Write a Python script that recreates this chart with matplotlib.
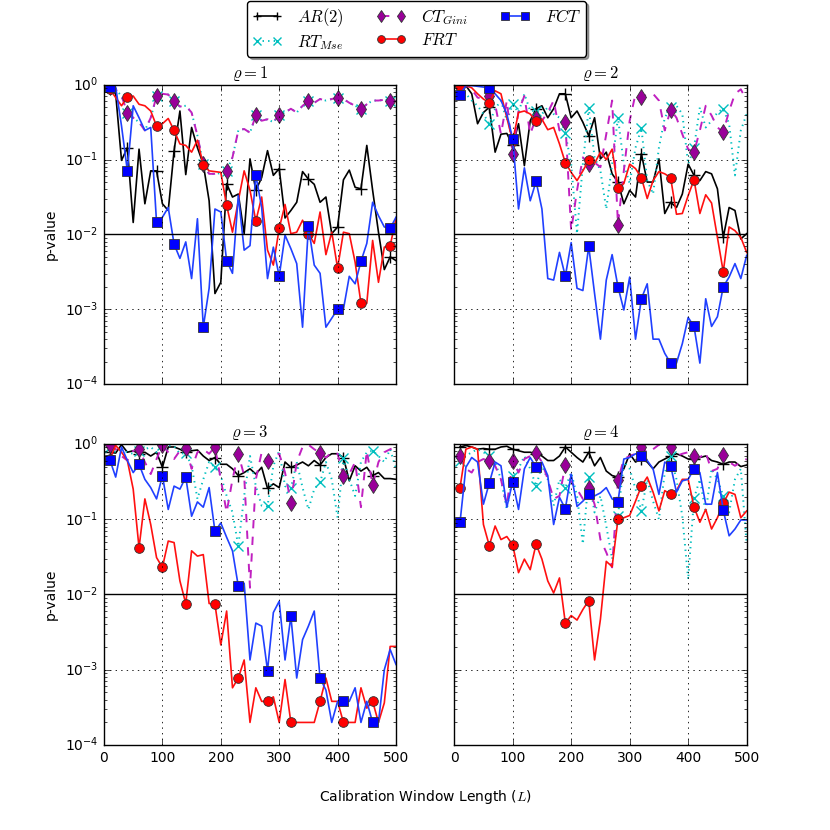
import matplotlib
matplotlib.use('Agg')
import numpy as np
import matplotlib.pyplot as plt

plt.style.use('classic')
plt.rcParams['mathtext.fontset'] = 'cm'
plt.rcParams['font.family'] = ['DejaVu Sans']

# Calibration window lengths (x axis)
window_lengths = list(range(10, 510, 10))

# log10(p-value) per model and per panel (rho = 1..4)
ar2_r1 = [-0.04, -0.12, -1.01, -0.84, -1.84, -0.86, -1.59, -1.15, -1.15, -1.59,
          -1.68, -0.88, -0.35, -1.20, -0.57, -0.84, -1.06, -1.55, -2.79, -2.64,
          -1.32, -1.50, -1.46, -1.99, -0.99, -1.41, -1.24, -0.88, -1.21, -1.12,
          -1.78, -1.68, -1.57, -1.16, -1.26, -1.33, -1.57, -1.50, -1.99, -1.90,
          -1.27, -1.14, -1.37, -1.39, -0.81, -1.41, -1.97, -2.47, -2.30, -2.35]
ct_r1 = [-0.03, -0.06, -0.15, -0.37, -0.44, -0.50, -0.61, -0.44, -0.15, -0.12,
         -0.13, -0.22, -0.29, -0.28, -0.37, -0.68, -1.06, -1.19, -1.19, -1.18,
         -1.15, -0.97, -0.61, -0.59, -0.64, -0.41, -0.48, -0.46, -0.50, -0.40,
         -0.37, -0.32, -0.37, -0.28, -0.22, -0.24, -0.19, -0.21, -0.19, -0.17,
         -0.19, -0.24, -0.28, -0.32, -0.26, -0.21, -0.21, -0.20, -0.21, -0.22]
rt_r1 = [-0.03, -0.06, -0.15, -0.37, -0.44, -0.50, -0.61, -0.44, -0.15, -0.12,
         -0.13, -0.22, -0.29, -0.28, -0.37, -0.68, -1.06, -1.19, -1.19, -1.18,
         -1.15, -0.97, -0.61, -0.59, -0.64, -0.41, -0.48, -0.46, -0.50, -0.40,
         -0.37, -0.32, -0.37, -0.28, -0.22, -0.24, -0.19, -0.21, -0.19, -0.17,
         -0.19, -0.24, -0.28, -0.32, -0.26, -0.21, -0.21, -0.20, -0.21, -0.22]
frt_r1 = [-0.06, -0.17, -0.28, -0.16, -0.15, -0.26, -0.28, -0.35, -0.55, -0.52,
          -0.45, -0.61, -0.79, -0.81, -0.90, -0.74, -1.07, -1.15, -1.16, -1.17,
          -1.61, -1.97, -1.55, -1.15, -1.41, -1.82, -1.50, -2.21, -2.41, -1.92,
          -1.60, -1.99, -1.97, -1.81, -1.99, -2.12, -1.70, -2.27, -1.97, -2.45,
          -1.97, -1.99, -2.37, -2.92, -2.92, -2.08, -2.64, -2.17, -2.15, -1.79]
fct_r1 = [-0.03, -0.03, -0.55, -1.15, -0.28, -0.44, -0.61, -0.57, -1.84, -1.77,
          -1.64, -2.13, -2.32, -2.10, -2.59, -1.79, -3.24, -2.72, -1.66, -1.70,
          -2.35, -2.52, -1.48, -2.21, -2.15, -1.21, -1.64, -2.59, -2.17, -2.56,
          -2.01, -2.19, -2.39, -3.24, -1.89, -2.41, -2.52, -3.24, -3.12, -3.00,
          -3.00, -2.56, -2.66, -2.36, -2.12, -1.57, -1.75, -1.90, -1.92, -1.77]

ar2_r2 = [-0.01, -0.01, -0.12, -0.52, -0.37, -0.30, -0.90, -0.66, -0.65, -0.81,
          -0.52, -1.08, -0.48, -0.32, -0.28, -0.44, -0.32, -0.12, -0.12, -0.44,
          -0.35, -0.50, -0.68, -0.44, -0.99, -0.90, -1.19, -1.30, -1.59, -1.41,
          -1.50, -0.92, -1.30, -1.30, -0.99, -1.72, -1.57, -1.64, -1.46, -1.06,
          -1.21, -1.28, -1.16, -1.19, -1.39, -2.04, -1.64, -1.68, -2.06, -1.99]
rt_r2 = [-0.04, -0.12, -0.21, -0.28, -0.39, -0.52, -0.32, -0.21, -0.48, -0.26,
         -0.37, -0.12, -0.35, -0.35, -0.39, -0.30, -0.39, -0.44, -0.64, -1.06,
         -1.99, -1.06, -0.31, -0.97, -1.15, -1.66, -1.06, -0.44, -1.06, -1.32,
         -0.84, -0.58, -1.28, -1.46, -0.84, -0.44, -0.30, -0.28, -0.39, -1.06,
         -0.84, -0.30, -0.57, -0.48, -0.37, -0.32, -0.52, -1.21, -0.61, -0.39]
ct_r2 = [-0.01, -0.01, -0.06, -0.17, -0.19, -0.15, -0.26, -0.66, -0.21, -0.93,
         -0.35, -0.15, -0.66, -0.44, -0.48, -0.37, -0.21, -0.61, -0.50, -1.95,
         -1.41, -0.97, -1.06, -1.04, -1.10, -0.66, -0.21, -1.87, -1.15, -0.48,
         -0.12, -0.16, -0.13, -0.12, -0.21, -0.61, -0.33, -0.44, -0.66, -0.86,
         -0.90, -0.61, -0.28, -0.41, -0.57, -0.63, -0.35, -0.12, -0.06, -0.21]
frt_r2 = [-0.01, -0.01, -0.04, -0.12, -0.19, -0.24, -0.08, -0.12, -0.44, -0.75,
          -0.37, -0.35, -0.39, -0.49, -0.46, -0.60, -0.57, -0.79, -1.04, -1.17,
          -1.28, -1.15, -1.01, -1.05, -0.90, -1.00, -0.86, -1.38, -1.32, -1.06,
          -1.12, -1.24, -1.52, -1.28, -1.16, -1.19, -1.24, -1.73, -1.72, -1.48,
          -1.27, -1.72, -1.47, -1.58, -2.04, -2.50, -1.90, -1.95, -2.04, -2.24]
fct_r2 = [-0.13, -0.01, -0.01, -0.02, -0.03, -0.04, -0.12, -0.21, -0.39, -0.72,
          -1.66, -1.11, -1.55, -1.29, -1.66, -2.59, -2.61, -2.24, -2.56, -2.11,
          -2.72, -2.75, -2.16, -2.79, -3.40, -2.61, -2.27, -2.70, -3.01, -2.57,
          -3.40, -2.86, -2.66, -3.40, -3.40, -3.59, -3.72, -3.72, -3.46, -3.11,
          -3.23, -3.72, -2.86, -3.23, -3.10, -2.70, -2.57, -2.39, -2.59, -2.28]

ar2_r3 = [-0.11, -0.12, -0.01, -0.11, -0.09, -0.13, -0.11, -0.16, -0.11, -0.31,
          -0.04, -0.04, -0.07, -0.11, -0.09, -0.08, -0.16, -0.22, -0.18, -0.27,
          -0.27, -0.33, -0.42, -0.38, -0.33, -0.40, -0.31, -0.59, -0.53, -0.58,
          -0.24, -0.31, -0.28, -0.24, -0.29, -0.22, -0.28, -0.18, -0.13, -0.13,
          -0.18, -0.49, -0.29, -0.36, -0.31, -0.42, -0.38, -0.46, -0.46, -0.47]
rt_r3 = [-0.04, -0.07, -0.09, -0.11, -0.13, -0.10, -0.07, -0.04, -0.11, -0.02,
         -0.02, -0.03, -0.13, -0.12, -0.29, -0.73, -0.47, -0.24, -0.31, -0.42,
         -0.69, -0.91, -1.36, -0.69, -0.16, -0.56, -0.82, -0.83, -0.29, -0.09,
         -0.56, -0.59, -0.24, -0.58, -0.87, -0.60, -0.51, -0.24, -0.47, -0.98,
         -0.19, -0.47, -0.69, -0.24, -0.11, -0.09, -0.16, -0.24, -0.07, -0.33]
ct_r3 = [-0.02, -0.07, -0.16, -0.22, -0.09, -0.07, -0.24, -0.40, -0.20, -0.02,
         -0.11, -0.20, -0.09, -0.05, -0.33, -0.11, -0.07, -0.13, -0.04, -0.47,
         -0.91, -0.47, -0.13, -0.42, -1.91, -0.47, -0.11, -0.23, -0.16, -0.13,
         -0.38, -0.78, -0.24, -0.04, -0.01, -0.07, -0.12, -0.18, -0.11, -0.13,
         -0.43, -0.40, -0.24, -0.84, -0.09, -0.55, -0.24, -0.11, -0.07, -0.04]
frt_r3 = [-0.20, -0.02, -0.11, -0.22, -0.60, -1.38, -0.73, -1.07, -1.51, -1.64,
          -1.29, -1.31, -1.82, -2.12, -1.42, -1.49, -1.47, -2.12, -2.13, -2.67,
          -2.22, -3.24, -3.11, -2.87, -3.70, -3.24, -3.42, -3.42, -3.36, -3.70,
          -3.13, -3.70, -3.70, -3.70, -3.70, -3.70, -3.42, -3.11, -3.42, -3.42,
          -3.70, -3.70, -3.70, -3.24, -3.51, -3.42, -3.70, -3.44, -2.69, -2.69]
fct_r3 = [-0.21, -0.44, -0.04, -0.22, -0.38, -0.27, -0.47, -0.58, -0.73, -0.42,
          -0.87, -0.56, -0.60, -0.44, -0.96, -0.77, -0.84, -0.58, -1.16, -1.05,
          -1.24, -1.42, -1.89, -1.85, -2.87, -2.38, -2.42, -3.01, -2.24, -2.09,
          -2.87, -2.29, -3.11, -2.60, -2.42, -2.22, -3.11, -3.27, -3.70, -3.42,
          -3.42, -3.42, -3.24, -3.70, -3.42, -3.70, -3.70, -3.00, -2.73, -2.93]

ar2_r4 = [-0.04, -0.02, -0.04, -0.07, -0.06, -0.07, -0.07, -0.04, -0.03, -0.07,
          -0.09, -0.11, -0.11, -0.13, -0.16, -0.22, -0.22, -0.16, -0.04, -0.11,
          -0.18, -0.24, -0.11, -0.29, -0.18, -0.36, -0.42, -0.44, -0.33, -0.13,
          -0.24, -0.20, -0.24, -0.33, -0.24, -0.20, -0.16, -0.13, -0.16, -0.20,
          -0.20, -0.18, -0.16, -0.22, -0.24, -0.27, -0.24, -0.24, -0.30, -0.28]
rt_r4 = [-0.22, -0.16, -0.11, -0.07, -0.11, -0.16, -0.24, -0.47, -0.87, -0.42,
         -0.33, -0.16, -0.33, -0.56, -0.29, -0.47, -0.82, -0.47, -0.58, -0.38,
         -0.69, -1.33, -0.44, -0.91, -0.69, -1.09, -1.53, -0.96, -0.24, -0.33,
         -0.60, -0.89, -0.47, -0.76, -1.00, -0.38, -0.16, -0.47, -0.96, -1.80,
         -0.72, -0.47, -0.91, -0.33, -0.47, -0.69, -0.91, -0.47, -0.33, -1.33]
ct_r4 = [-0.16, -0.33, -0.38, -0.24, -0.20, -0.23, -0.29, -0.47, -0.82, -0.22,
         -0.38, -0.20, -0.16, -0.12, -0.24, -0.47, -0.73, -0.69, -0.28, -0.51,
         -0.60, -0.73, -0.58, -0.80, -1.27, -1.44, -1.64, -0.48, -0.20, -0.16,
         -0.13, -0.04, -0.11, -0.07, -0.01, -0.04, -0.04, -0.16, -0.13, -0.11,
         -0.16, -0.18, -0.11, -0.36, -0.33, -0.14, -0.24, -0.29, -0.24, -0.20]
frt_r4 = [-0.58, -0.07, -0.04, -0.07, -1.07, -1.35, -1.09, -1.27, -1.23, -1.34,
          -1.71, -1.53, -1.67, -1.33, -1.53, -1.82, -1.98, -1.78, -2.38, -2.28,
          -2.34, -2.20, -2.08, -2.87, -2.33, -1.56, -1.63, -1.00, -0.98, -0.95,
          -0.76, -0.56, -0.44, -0.64, -0.89, -0.62, -0.67, -0.62, -0.47, -0.47,
          -0.84, -1.04, -0.87, -1.13, -0.98, -0.79, -0.64, -0.67, -0.98, -0.89]
fct_r4 = [-1.04, -0.31, -0.18, -0.24, -0.80, -0.52, -0.24, -0.29, -0.84, -0.50,
          -0.87, -0.33, -0.18, -0.31, -0.24, -0.42, -1.07, -0.71, -0.86, -0.40,
          -0.83, -0.76, -0.67, -0.69, -0.65, -0.58, -0.73, -0.77, -0.20, -0.18,
          -0.13, -0.16, -0.22, -0.33, -0.67, -0.24, -0.29, -0.64, -0.49, -0.47,
          -0.33, -0.38, -0.80, -0.80, -0.38, -0.88, -1.22, -1.13, -1.01, -1.01]

# marker positions (indices into window_lengths)
marks_r1 = [0, 3, 8, 11, 16, 20, 25, 29, 34, 39, 43, 48]
marks_r234 = [0, 5, 9, 13, 18, 22, 27, 31, 36, 40, 45]

model_labels = [r'$AR(2)$', r'$RT_{Mse}$', r'$CT_{Gini}$', r'$FRT$', r'$FCT$']
panel_titles = [r'$\varrho = 1$', r'$\varrho = 2$', r'$\varrho = 3$', r'$\varrho = 4$']
threshold = 0.01

panels = [
    (ar2_r1, rt_r1, ct_r1, frt_r1, fct_r1, marks_r1),
    (ar2_r2, rt_r2, ct_r2, frt_r2, fct_r2, marks_r234),
    (ar2_r3, rt_r3, ct_r3, frt_r3, fct_r3, marks_r234),
    (ar2_r4, rt_r4, ct_r4, frt_r4, fct_r4, marks_r234),
]

styles = [
    dict(color='k', ls='-', marker='+', ms=8, mew=1.0, mec='k', lw=1.2),
    dict(color='#00bfbf', ls=':', marker='x', ms=7, mew=1.0, mec='#00bfbf', lw=1.4),
    dict(color='#c020c0', ls='--', marker='d', ms=8, mfc='#990099', mec='#333333', mew=0.6, lw=1.4),
    dict(color='#ff1010', ls='-', marker='o', ms=7, mfc='#ff0000', mec='#333333', mew=0.6, lw=1.2),
    dict(color='#2040ff', ls='-', marker='s', ms=7, mfc='#0000ff', mec='#333333', mew=0.6, lw=1.2),
]

positions = [
    [0.1253, 0.5373, 0.3518, 0.3605],
    [0.5472, 0.5373, 0.3524, 0.3605],
    [0.1253, 0.1024, 0.3518, 0.3627],
    [0.5472, 0.1024, 0.3524, 0.3627],
]

fig = plt.figure(figsize=(8.3, 8.3), dpi=100, facecolor='white')
handles = []
for k, (pos, data, title) in enumerate(zip(positions, panels, panel_titles)):
    ax = fig.add_axes(pos)
    series = data[:5]
    marks = data[5]
    for s, (vals, st, lab) in enumerate(zip(series, styles, model_labels)):
        p = np.power(10.0, np.array(vals))
        ln, = ax.plot(window_lengths, p, markevery=marks, label=lab, **st)
        if k == 0:
            handles.append(ln)
    ax.axhline(threshold, color='k', lw=1.0)
    ax.set_yscale('log')
    ax.set_ylim(1e-4, 1)
    ax.set_xlim(0, 500)
    ax.set_xticks([0, 100, 200, 300, 400, 500])
    ax.grid(True, which='major', color='k', linestyle=':', linewidth=0.6)
    ax.tick_params(labelsize=10)
    ax.set_title(title, fontsize=12)
    if k in (0, 1):
        ax.tick_params(labelbottom=False)
    if k in (1, 3):
        ax.tick_params(labelleft=False)
    else:
        ax.set_ylabel('p-value', fontsize=10)

fig.legend(handles, model_labels, loc='upper center', bbox_to_anchor=(0.5018, 1.0),
           borderaxespad=0.05, ncol=3, fancybox=True, shadow=True, numpoints=2,
           fontsize=12, markerscale=0.8, handlelength=1.8, handletextpad=0.9,
           columnspacing=1.9, labelspacing=0.25, borderpad=0.3)
fig.text(0.512, 0.035, 'Calibration Window Length ($L$)', ha='center', fontsize=10)

fig.savefig('out.png', dpi=100, facecolor='white')
